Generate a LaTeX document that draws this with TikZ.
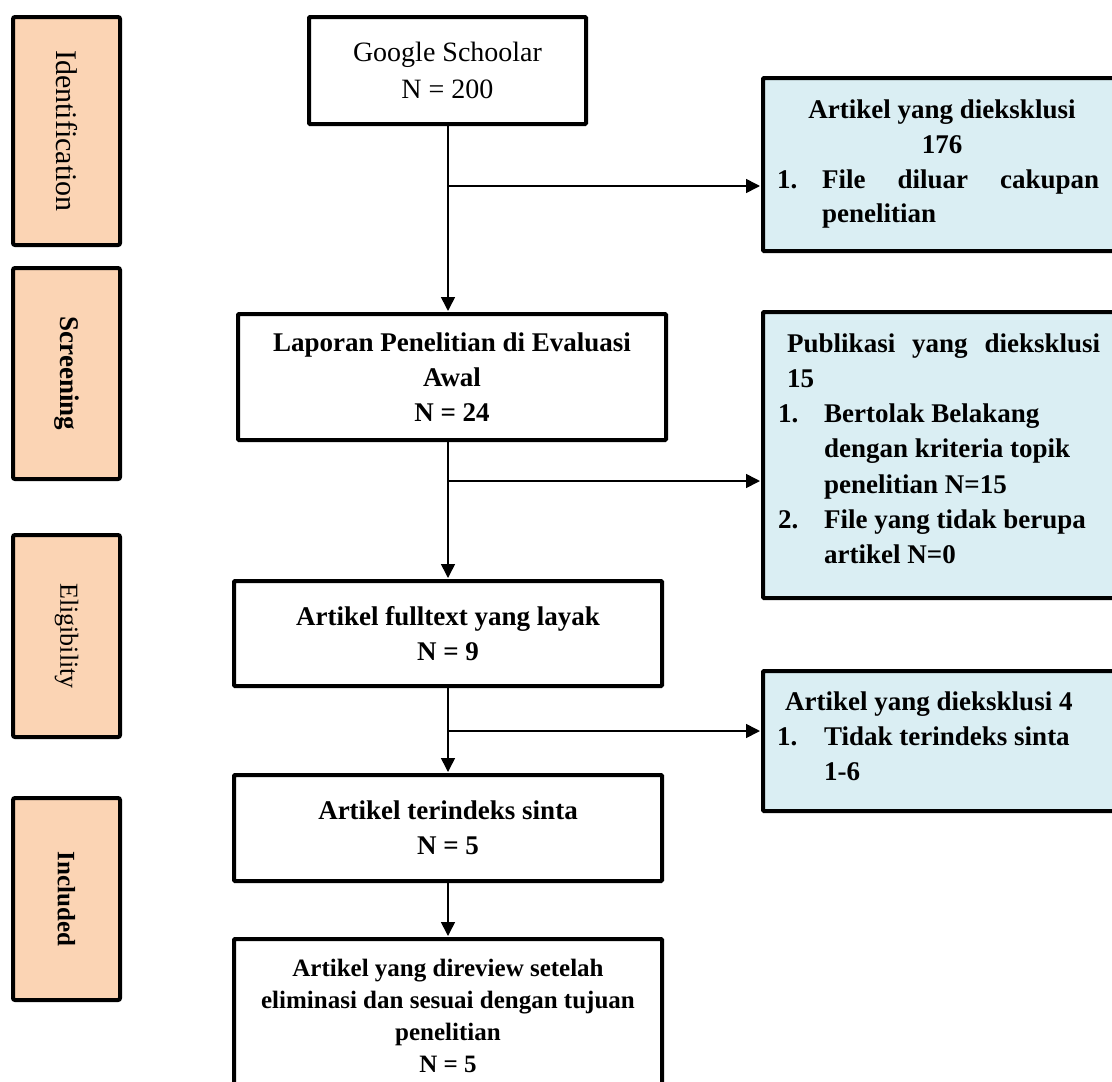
\documentclass[tikz,border=0pt]{standalone}
\usepackage{fontspec}
\setmainfont{Liberation Serif}
\usetikzlibrary{arrows.meta}
\definecolor{peach}{HTML}{FBD4B4}
\definecolor{paleblue}{HTML}{DAEEF3}
\begin{document}
\begin{tikzpicture}[x=1pt,y=-1pt,
  phase/.style={draw=black, line width=4pt, fill=peach, rounded corners=2pt, inner sep=0pt, rotate=-90, minimum height=107pt},
  mainbox/.style={draw=black, line width=4pt, fill=white, inner sep=0pt, align=center, rounded corners=1pt, minimum width=428pt},
  exbox/.style={draw=black, line width=4pt, fill=paleblue, inner sep=0pt, rounded corners=1pt, minimum width=362pt},
  mfont/.style={font=\fontsize{27}{35}\selectfont\bfseries},
  bt/.style={inner sep=0pt, anchor=base west, font=\fontsize{27}{35}\selectfont\bfseries},
  arr/.style={line width=1.6pt, -{Triangle[length=14pt,width=14pt]}, shorten >=1pt},
  ln/.style={line width=1.6pt}
]
\useasboundingbox (0,0) rectangle (1112,1082);
\clip (0,0) rectangle (1112,1082);

% phase labels
\node[phase, minimum width=228pt, font=\fontsize{30}{36}\selectfont] (ident) at (66.5,131) {Identification};
\node[phase, minimum width=211pt, font=\fontsize{27}{34}\selectfont\bfseries] (screen) at (66.5,373.5) {Screening};
\node[phase, minimum width=202pt, font=\fontsize{26}{34}\selectfont] (elig) at (66.5,636) {Eligibility};
\node[phase, minimum width=202pt, font=\fontsize{25}{34}\selectfont\bfseries] (incl) at (66.5,899) {Included};

% main flow boxes
\node[mainbox, minimum width=277pt, minimum height=107pt, font=\fontsize{28}{37}\selectfont] (google) at (447.5,70.5) {Google Schoolar\\N = 200};
\node[mainbox, mfont, minimum height=126pt] (lapor) at (452,377) {Laporan Penelitian di Evaluasi\\Awal\\N = 24};
\node[mainbox, mfont, minimum height=105pt] (full) at (448,633.5) {Artikel fulltext yang layak\\N = 9};
\node[mainbox, mfont, minimum height=106pt] (sinta) at (448,828) {Artikel terindeks sinta\\N = 5};
\node[mainbox, minimum height=154pt, font=\fontsize{25}{32}\selectfont\bfseries] (final) at (448,1016) {Artikel yang direview setelah\\eliminasi dan sesuai dengan tujuan\\penelitian\\N = 5};

% exclusion boxes
\node[exbox, minimum height=173pt] (ex1) at (944,164.5) {};
\node[exbox, minimum height=286pt] (ex2) at (944,455) {};
\node[exbox, minimum height=140pt] (ex3) at (944,741) {};

% texts of exclusion box 1
\node[bt, anchor=base] (e1a) at (942,118) {Artikel yang dieksklusi};
\node[bt, anchor=base] (e1b) at (942,153) {176};
\node[bt] (e1c) at (777,188) {1.};
\node[bt] (e1d) at (822,188) {\makebox[277pt][s]{File diluar cakupan}};
\node[bt] (e1e) at (822,222) {penelitian};

% texts of exclusion box 2
\node[bt] (e2a) at (787,352) {\makebox[313pt][s]{Publikasi yang dieksklusi}};
\node[bt] (e2b) at (787,387) {15};
\node[bt] (e2c) at (778,422) {1.};
\node[bt] (e2d) at (824,422) {Bertolak Belakang};
\node[bt] (e2e) at (824,457) {dengan kriteria topik};
\node[bt] (e2f) at (824,493) {penelitian N=15};
\node[bt] (e2g) at (778,528) {2.};
\node[bt] (e2h) at (824,528) {File yang tidak berupa};
\node[bt] (e2i) at (824,563) {artikel N=0};

% texts of exclusion box 3
\node[bt] (e3a) at (785,710) {Artikel yang dieksklusi 4};
\node[bt] (e3b) at (777,745) {1.};
\node[bt] (e3c) at (824,745) {Tidak terindeks sinta};
\node[bt] (e3d) at (824,780) {1-6};

% connectors
\coordinate (colx) at (448,0);
\coordinate (j1) at (448,186);
\coordinate (j2) at (448,481);
\coordinate (j3) at (448,731);
\draw[arr] (google.south -| colx) -- (lapor.north -| colx);
\draw[arr] (j1) -- (j1 -| ex1.west);
\draw[arr] (lapor.south -| colx) -- (full.north -| colx);
\draw[arr] (j2) -- (j2 -| ex2.west);
\draw[arr] (full.south -| colx) -- (sinta.north -| colx);
\draw[arr] (j3) -- (j3 -| ex3.west);
\draw[arr] (sinta.south -| colx) -- (final.north -| colx);
\end{tikzpicture}
\end{document}
